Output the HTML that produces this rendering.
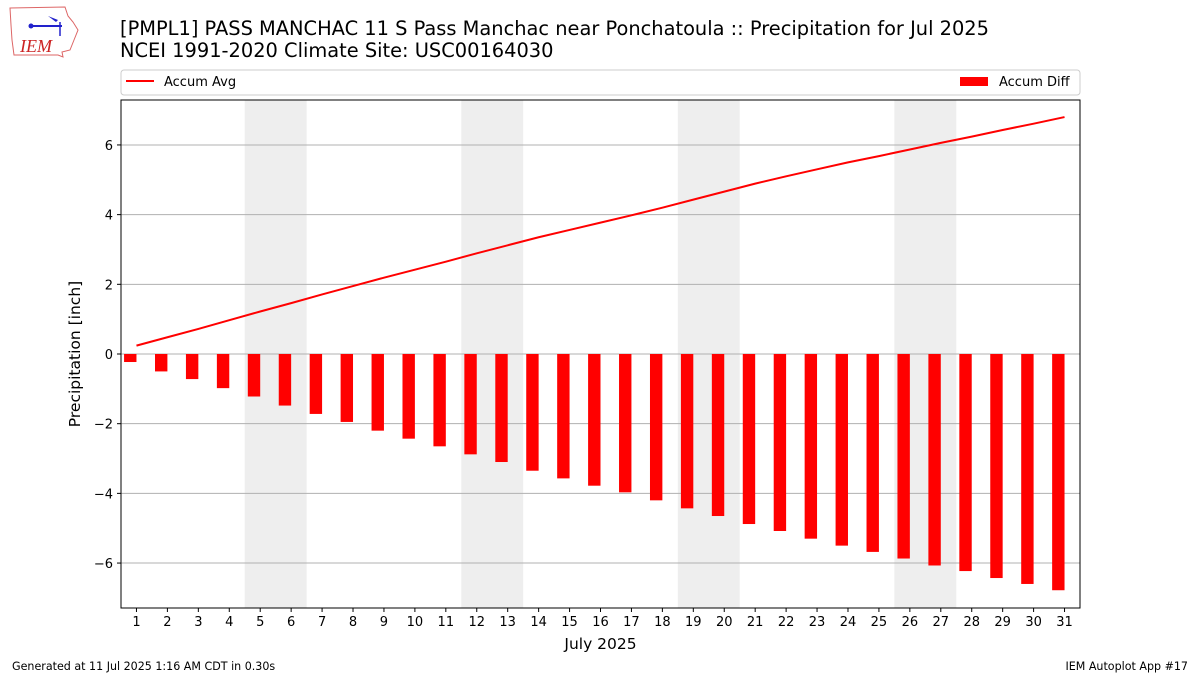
<!DOCTYPE html>
<html><head><meta charset="utf-8"><style>
body{margin:0;background:#fff;width:1200px;height:675px;overflow:hidden;font-family:"DejaVu Sans","Liberation Sans",sans-serif}
</style></head><body>
<svg id="c" width="1200" height="675" xmlns="http://www.w3.org/2000/svg" font-family="DejaVu Sans, Liberation Sans, sans-serif">
<g>
<path d="M10,8 L65,7 L68,16 L73,22 L78,30 L74,40 L70,50 L62,52 L63,57 L58,55 L14,55 L12,40 L11,25 Z" fill="none" stroke="#d66" stroke-width="1"/>
<line x1="30" y1="26" x2="62" y2="26" stroke="#22c" stroke-width="2"/>
<circle cx="31" cy="26" r="2.5" fill="#22c"/>
<path d="M48,16 L58,20 L56,22 Z" fill="#22c"/>
<line x1="60" y1="22" x2="60" y2="36" stroke="#22c" stroke-width="1.5"/>
<text x="20" y="52" font-family="Liberation Serif, serif" font-style="italic" font-size="18" fill="#c22">IEM</text>
</g>
<text x="120" y="35" font-size="19.4" fill="#000">[PMPL1] PASS MANCHAC 11 S Pass Manchac near Ponchatoula :: Precipitation for Jul 2025</text>
<text x="120" y="57" font-size="19.4" fill="#000">NCEI 1991-2020 Climate Site: USC00164030</text>
<g>
<rect x="121" y="70" width="959" height="25" rx="3" fill="#fff" stroke="#ccc"/>
<line x1="126" y1="81" x2="154" y2="81" stroke="red" stroke-width="2"/>
<text x="164" y="86" font-size="13">Accum Avg</text>
<rect x="960" y="77" width="28" height="9" fill="red"/>
<text x="999" y="86" font-size="13">Accum Diff</text>
</g>
<g id="plot"></g>
<text x="12" y="670" font-size="11.1">Generated at 11 Jul 2025 1:16 AM CDT in 0.30s</text>
<text x="1188" y="670" font-size="11.1" text-anchor="end">IEM Autoplot App #17</text>
</svg>
<script>
const days=[1,2,3,4,5,6,7,8,9,10,11,12,13,14,15,16,17,18,19,20,21,22,23,24,25,26,27,28,29,30,31];
const accumDiff=[-0.23,-0.5,-0.72,-0.98,-1.22,-1.48,-1.72,-1.95,-2.2,-2.43,-2.65,-2.88,-3.1,-3.35,-3.57,-3.78,-3.97,-4.2,-4.43,-4.65,-4.88,-5.08,-5.3,-5.5,-5.68,-5.87,-6.07,-6.23,-6.43,-6.6,-6.78];
const accumAvg=[0.24,0.48,0.72,0.97,1.22,1.46,1.71,1.95,2.19,2.42,2.65,2.89,3.12,3.35,3.56,3.77,3.98,4.2,4.43,4.66,4.89,5.1,5.3,5.5,5.68,5.87,6.06,6.24,6.43,6.61,6.8];
const yTicks=[-6,-4,-2,0,2,4,6];
const weekends=[[4.5,6.5],[11.5,13.5],[18.5,20.5],[25.5,27.5]];
const L=121,R=1080,T=100,B=608,ymin=-7.29,ymax=7.29;
const X=d=>L+(d-0.5)/31*(R-L);
const Y=v=>T+(ymax-v)/(ymax-ymin)*(B-T);
const ns='http://www.w3.org/2000/svg',g=document.getElementById('plot');
function mk(t,a,txt){const e=document.createElementNS(ns,t);for(const k in a)e.setAttribute(k,a[k]);if(txt!==undefined)e.textContent=txt;g.appendChild(e);return e;}
weekends.forEach(w=>{const e=mk('rect',{x:X(w[0]),y:T,width:X(w[1])-X(w[0]),height:B-T,fill:'#eeeeee'});

});
yTicks.forEach(v=>{const e=mk('line',{x1:L,x2:R,y1:Y(v),y2:Y(v),stroke:'#b0b0b0','stroke-width':1});


mk('line',{x1:L-4,x2:L,y1:Y(v),y2:Y(v),stroke:'#000'});
const t=mk('text',{x:L-8,y:Y(v)+5,'font-size':13,'text-anchor':'end'},v<0?'\u2212'+(-v):String(v));

});
days.forEach((d,i)=>{const v=accumDiff[i];const y0=Y(0),y1=Y(v);
const b=mk('rect',{x:X(d)-12.4,y:Math.min(y0,y1),width:12.4,height:Math.abs(y1-y0),fill:'red'});


mk('line',{x1:X(d),x2:X(d),y1:B,y2:B+4,stroke:'#000'});
const t=mk('text',{x:X(d),y:B+18,'font-size':13,'text-anchor':'middle'},String(d));

});
const p=mk('polyline',{points:days.map((d,i)=>X(d)+','+Y(accumAvg[i])).join(' '),fill:'none',stroke:'red','stroke-width':2});


const f=mk('rect',{x:L,y:T,width:R-L,height:B-T,fill:'none',stroke:'#000','stroke-width':1});


const xt=mk('text',{x:(L+R)/2,y:649,'font-size':15.5,'text-anchor':'middle'},'July 2025');


const yt=mk('text',{x:0,y:0,'font-size':15.5,'text-anchor':'middle',transform:'translate(80,354) rotate(-90)'},'Precipitation [inch]');


</script>
</body></html>
